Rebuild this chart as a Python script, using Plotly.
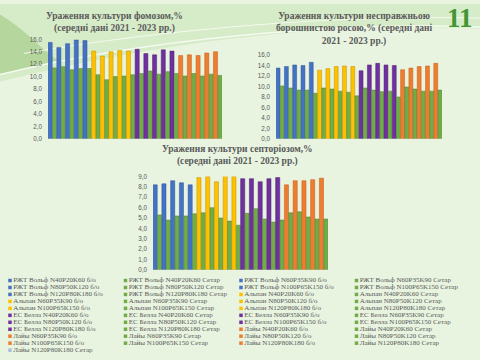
import plotly.graph_objects as go

varieties = ["РЖТ Вольф", "Альпан", "ЕС Белла", "Лайы"]
levels = ["N40P20K60", "N60P35K90", "N80P50K120", "N100P65K150", "N120P80K180"]
treatments = ["б/о", "Сетар"]
variety_colors = ["#4472C4", "#FFC000", "#7030A0", "#ED7D31"]
variety_edges = ["#2F5597", "#BF9000", "#4B1F6F", "#C55A11"]
setar_color = "#70AD47"
setar_edge = "#507E32"
extra_label = "Лайы N120P80K180 Сетар"
extra_color = "#A9BCDD"

# values per variety (rows) and fertiliser level (columns)
fomoz_bo = [[15.5, 14.7, 15.3, 15.9, 15.8],
            [14.1, 13.3, 14.0, 14.2, 14.1],
            [14.4, 13.7, 13.5, 14.3, 14.1],
            [13.4, 13.5, 13.4, 13.8, 14.0]]
fomoz_setar = [[11.4, 11.6, 11.1, 11.3, 11.3],
               [10.3, 9.5, 10.0, 10.1, 10.3],
               [10.5, 10.9, 10.4, 10.8, 10.5],
               [10.1, 10.5, 10.1, 10.4, 10.2]]
rosa_bo = [[13.5, 13.8, 14.1, 14.0, 14.6],
           [13.1, 13.4, 13.8, 13.9, 13.8],
           [13.0, 14.1, 14.4, 14.1, 14.0],
           [13.2, 13.5, 13.8, 13.9, 14.4]]
rosa_setar = [[10.1, 9.7, 9.3, 9.3, 8.7],
              [9.7, 9.5, 9.1, 8.9, 8.2],
              [9.7, 9.3, 9.0, 9.1, 8.0],
              [9.9, 9.5, 9.1, 9.1, 9.3]]
sept_bo = [[8.2, 8.3, 8.6, 8.4, 8.2],
           [8.9, 9.0, 8.5, 9.1, 9.0],
           [8.8, 8.8, 8.5, 8.8, 8.9],
           [8.2, 8.6, 8.6, 8.7, 8.85]]
sept_setar = [[5.3, 4.8, 5.2, 5.2, 5.4],
              [5.5, 6.0, 5.0, 4.7, 4.3],
              [5.45, 5.9, 4.9, 4.6, 4.8],
              [5.5, 5.6, 5.1, 4.9, 4.9]]

titles = ["<b>Ураження культури фомозом,%<br>(середні дані 2021 - 2023 рр.)</b>",
          "<b>Ураження культури несправжньою<br>борошнистою росою,% (середні дані<br>2021 - 2023 рр.)</b>",
          "<b>Ураження культури септоріозом,%<br>(середні дані 2021 - 2023 рр.)</b>"]

# build series order: variety -> level -> treatment
labels, colors, edges = [], [], []
for vi, v in enumerate(varieties):
    for lv in levels:
        for t in treatments:
            labels.append(f"{v} {lv} {t}")
            colors.append(variety_colors[vi] if t == "б/о" else setar_color)
            edges.append(variety_edges[vi] if t == "б/о" else setar_edge)

def flatten(bo, se):
    out = []
    for vi in range(len(varieties)):
        for li in range(len(levels)):
            out.append(bo[vi][li])
            out.append(se[vi][li])
    return out

datasets = [flatten(fomoz_bo, fomoz_setar), flatten(rosa_bo, rosa_setar), flatten(sept_bo, sept_setar)]

fig = go.Figure()
W, H = 480, 360
def px(x0, x1):
    return [x0 / W, x1 / W]
def py(ytop, ybot):
    return [1 - ybot / H, 1 - ytop / H]

x_domains = [px(48, 222), px(276, 442), px(153, 328)]
y_domains = [py(36, 137.5), py(52, 137.5), py(176, 271)]
y_ranges = [[0, 16], [0, 16], [0, 9]]
y_dticks = [2, 2, 1]

for k in range(3):
    xa = "x" if k == 0 else f"x{k+1}"
    ya = "y" if k == 0 else f"y{k+1}"
    fig.add_trace(go.Bar(x=list(range(len(labels))), y=datasets[k], xaxis=xa, yaxis=ya,
                         marker=dict(color=colors, line=dict(color=edges, width=0.5)),
                         showlegend=False, hoverinfo="y"))
    key = "" if k == 0 else str(k + 1)
    fig.layout["xaxis" + key] = dict(domain=x_domains[k], range=[-0.5, len(labels) - 0.5],
                                     showticklabels=False, showgrid=False, zeroline=False,
                                     anchor=ya)
    fig.layout["yaxis" + key] = dict(domain=y_domains[k], range=y_ranges[k], dtick=y_dticks[k],
                                     tickformat=".1f", showgrid=False, zeroline=False,
                                     tickfont=dict(family="Liberation Sans", size=6.3, color="#595959"),
                                     ticklabelstandoff=5, anchor=xa)

# legend drawn as text markers in pixel-space axis
leg_labels = labels + [extra_label]
leg_colors = colors + [extra_color]
ncol = 4
lx = [10 + 115.5 * (i % ncol) for i in range(len(leg_labels))]
ly = [282 + 7.1 * (i // ncol) for i in range(len(leg_labels))]
fig.add_trace(go.Scatter(x=lx, y=ly, xaxis="x4", yaxis="y4", mode="markers+text",
                         marker=dict(symbol="square", size=3.5, color=leg_colors),
                         text=leg_labels, textposition="middle right",
                         textfont=dict(family="Liberation Serif", size=7, color="#595959"),
                         showlegend=False, hoverinfo="skip", cliponaxis=False))
fig.layout["xaxis4"] = dict(domain=[0, 1], range=[0, W], visible=False, fixedrange=True)
fig.layout["yaxis4"] = dict(domain=[0, 1], range=[H, 0], visible=False, fixedrange=True)

ann = []
title_pos = [(114, 18.5), (354, 25), (237, 154)]
for k, (tx, tyc) in enumerate(title_pos):
    ann.append(dict(text=titles[k], x=tx / W, y=1 - tyc / H, xref="paper", yref="paper",
                    showarrow=False, xanchor="center", yanchor="middle",
                    font=dict(family="Liberation Serif", size=9.5, color="#595959")))
ann.append(dict(text="<b>11</b>", x=460 / W, y=1 - 14 / H, xref="paper", yref="paper",
                showarrow=False, xanchor="center", yanchor="middle",
                font=dict(family="Liberation Serif", size=27, color="#439634")))

shapes = [
    dict(type="path", xref="paper", yref="paper", layer="below",
         path="M 0 1 L 1 1 L 1 0.93 C 0.7 0.95, 0.35 0.9, 0 0.78 Z",
         fillcolor="#D6EBC8", line=dict(width=0)),
    dict(type="path", xref="paper", yref="paper", layer="below",
         path="M 0 0.97 C 0.05 0.93, 0.08 0.88, 0.12 0.84 L 0 0.80 Z",
         fillcolor="#B5D79E", line=dict(width=0)),
    dict(type="path", xref="paper", yref="paper", layer="below",
         path="M 0 0.80 C 0.3 0.9, 0.7 0.95, 1 0.935",
         line=dict(color="#F4FAF0", width=1.5)),
    dict(type="path", xref="paper", yref="paper", layer="below",
         path="M 0.05 0.86 C 0.35 0.93, 0.7 0.97, 1 0.96",
         line=dict(color="#F4FAF0", width=1)),
]

fig.update_layout(width=W, height=H, margin=dict(l=0, r=0, t=0, b=0),
                  paper_bgcolor="#E8F4E0", plot_bgcolor="rgba(0,0,0,0)",
                  barmode="group", bargap=0.06, separators=", ",
                  annotations=ann, shapes=shapes)

fig.write_html("out.html", config={"displayModeBar": False},
               post_script="document.body.style.margin='0';document.body.style.padding='0';"
                           "document.body.style.overflow='hidden';")
